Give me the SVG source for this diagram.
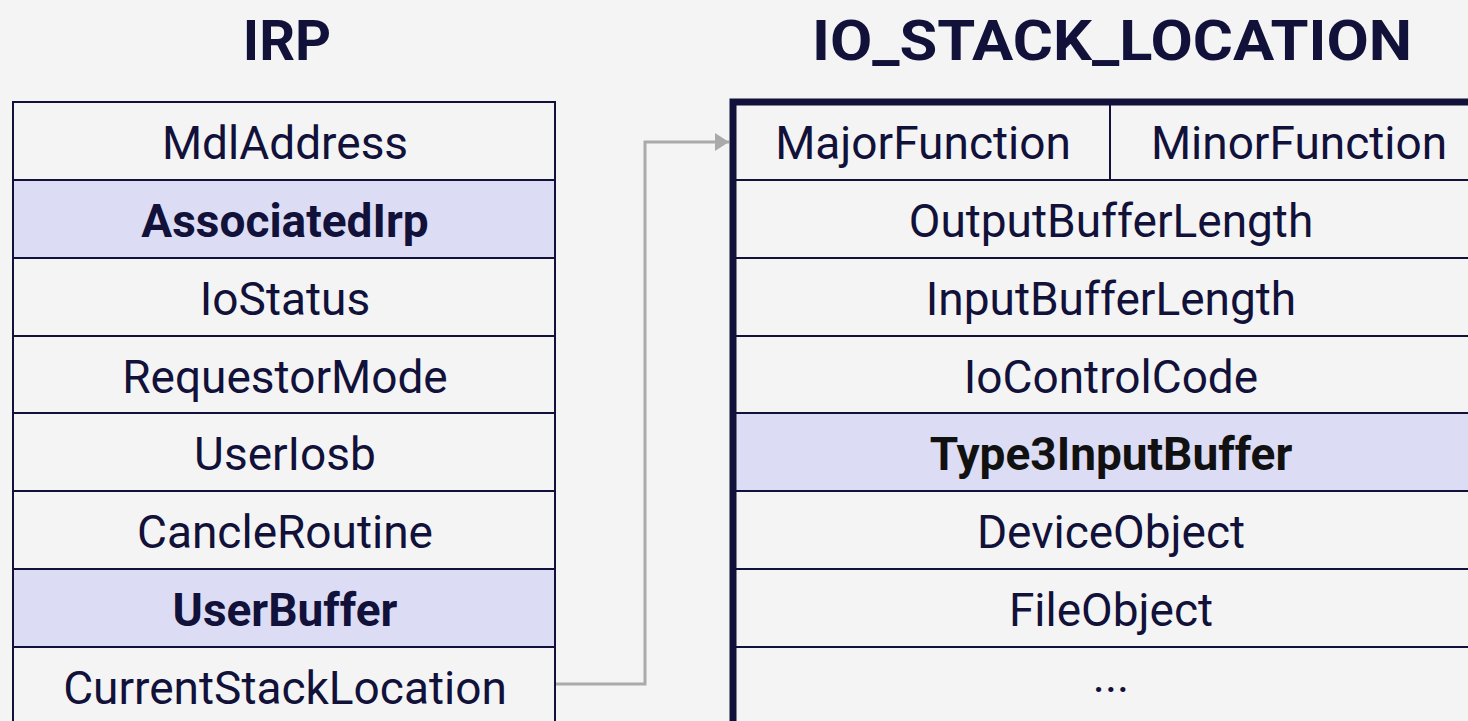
<svg xmlns="http://www.w3.org/2000/svg" width="1468" height="721" viewBox="0 0 1468 721">
  <defs>
    <style>
      .bg { fill: #f4f4f4; }
      .title { font-family: Roboto, "Liberation Sans", sans-serif; font-weight: 700; font-size: 56px; fill: #11113a; text-anchor: middle; }
      .cell { fill: #f4f4f4; stroke: #11113a; stroke-width: 2; }
      .hl { fill: #dcdcf4; stroke: #11113a; stroke-width: 2; }
      .lbl { font-family: Roboto, "Liberation Sans", sans-serif; font-size: 46px; fill: #11113a; text-anchor: middle; }
      .bold { font-weight: 700; }
      .black { fill: #111111; }
      .frame { fill: none; stroke: #11113a; stroke-width: 7; }
      .conn { fill: none; stroke: #aaaaaa; stroke-width: 3; }
    </style>
    <marker id="arrow" viewBox="0 0 14 18" refX="14" refY="9" markerWidth="14" markerHeight="18" markerUnits="userSpaceOnUse" orient="auto">
      <path d="M0,0 L14,9 L0,18 Z" fill="#aaaaaa"/>
    </marker>
  </defs>

  <rect class="bg" x="0" y="0" width="1468" height="721"/>

  <!-- IRP structure -->
  <g id="irp">
    <text class="title" x="287" y="60">IRP</text>
    <g id="irp-mdladdress">
      <rect class="cell" x="13" y="102" width="542" height="78"/>
      <text class="lbl" x="285" y="159">MdlAddress</text>
    </g>
    <g id="irp-associatedirp">
      <rect class="hl" x="13" y="180" width="542" height="78"/>
      <text class="lbl bold" x="285" y="237">AssociatedIrp</text>
    </g>
    <g id="irp-iostatus">
      <rect class="cell" x="13" y="258" width="542" height="78"/>
      <text class="lbl" x="285" y="315">IoStatus</text>
    </g>
    <g id="irp-requestormode">
      <rect class="cell" x="13" y="336" width="542" height="77"/>
      <text class="lbl" x="285" y="393">RequestorMode</text>
    </g>
    <g id="irp-useriosb">
      <rect class="cell" x="13" y="413" width="542" height="78"/>
      <text class="lbl" x="285" y="470">UserIosb</text>
    </g>
    <g id="irp-canclero">
      <rect class="cell" x="13" y="491" width="542" height="78"/>
      <text class="lbl" x="285" y="548">CancleRoutine</text>
    </g>
    <g id="irp-userbuffer">
      <rect class="hl" x="13" y="569" width="542" height="78"/>
      <text class="lbl bold" x="285" y="626">UserBuffer</text>
    </g>
    <g id="irp-currentstacklocation">
      <rect class="cell" x="13" y="647" width="542" height="90"/>
      <text class="lbl" x="285" y="704">CurrentStackLocation</text>
    </g>
  </g>

  <!-- IO_STACK_LOCATION structure -->
  <g id="io-stack-location">
    <text class="title" x="1112" y="60" textLength="600" lengthAdjust="spacingAndGlyphs">IO_STACK_LOCATION</text>
    <g id="isl-majorfunction">
      <rect class="cell" x="733" y="102" width="377" height="78"/>
      <text class="lbl" x="923" y="159">MajorFunction</text>
    </g>
    <g id="isl-minorfunction">
      <rect class="cell" x="1110" y="102" width="380" height="78"/>
      <text class="lbl" x="1299" y="159">MinorFunction</text>
    </g>
    <g id="isl-outputbufferlength">
      <rect class="cell" x="733" y="180" width="757" height="78"/>
      <text class="lbl" x="1111" y="237">OutputBufferLength</text>
    </g>
    <g id="isl-inputbufferlength">
      <rect class="cell" x="733" y="258" width="757" height="78"/>
      <text class="lbl" x="1111" y="315">InputBufferLength</text>
    </g>
    <g id="isl-iocontrolcode">
      <rect class="cell" x="733" y="336" width="757" height="77"/>
      <text class="lbl" x="1111" y="393">IoControlCode</text>
    </g>
    <g id="isl-type3inputbuffer">
      <rect class="hl" x="733" y="413" width="757" height="78"/>
      <text class="lbl bold black" x="1111" y="470">Type3InputBuffer</text>
    </g>
    <g id="isl-deviceobject">
      <rect class="cell" x="733" y="491" width="757" height="78"/>
      <text class="lbl" x="1111" y="548">DeviceObject</text>
    </g>
    <g id="isl-fileobject">
      <rect class="cell" x="733" y="569" width="757" height="78"/>
      <text class="lbl" x="1111" y="626">FileObject</text>
    </g>
    <g id="isl-more">
      <rect class="cell" x="733" y="647" width="757" height="90"/>
      <text class="lbl" x="1111" y="692">...</text>
    </g>
    <!-- heavy outer frame on the visible left and top edges -->
    <path class="frame" d="M733,740 V102 H1490"/>
  </g>

  <!-- connectors -->
  <g id="connectors">
    <path class="conn" d="M556,684 H645 V142 H729" marker-end="url(#arrow)"/>
  </g>
</svg>
